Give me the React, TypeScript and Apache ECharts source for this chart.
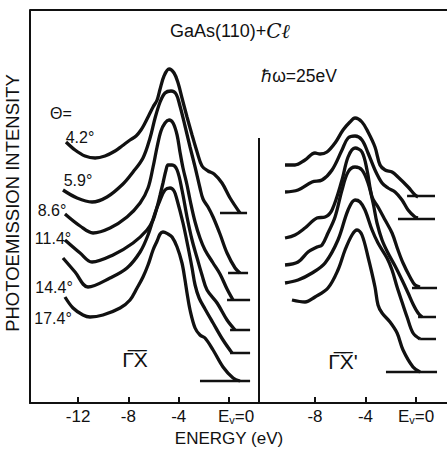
import React, { useEffect, useRef } from 'react';
import * as echarts from 'echarts';

// Energy (eV) vs. intensity (arbitrary units, offset curves)
const leftTicks = [-12, -8, -4, 0];
const rightTicks = [-8, -4, 0];

const thetaLabels = ['4.2°', '5.9°', '8.6°', '11.4°', '14.4°', '17.4°'];

// Left panel (Γ̄X̄)
const curveL1 = [[-12.96,261],[-12.24,253],[-11.45,247],[-10.65,245],[-9.86,247],[-9.06,252],[-8.51,257],[-7.87,263],[-7.39,267],[-7.0,273],[-6.68,280],[-6.36,288],[-6.04,296],[-5.72,303],[-5.48,314],[-5.17,327],[-4.77,334],[-4.37,330],[-4.05,320],[-3.74,305],[-3.34,286],[-2.94,268],[-2.54,251],[-2.15,237],[-1.67,232],[-1.19,229],[-0.56,220],[0.08,205],[0.87,190]];
const curveL2 = [[-13.2,213],[-12.08,205],[-10.89,201],[-9.7,206],[-8.43,219],[-7.63,231],[-6.84,245],[-6.28,265],[-5.88,285],[-5.48,301],[-5.09,310],[-4.61,312],[-4.21,309],[-3.9,297],[-3.5,277],[-3.1,256],[-2.7,236],[-2.31,215],[-2.07,204],[-1.67,196],[-1.27,186],[-0.72,169],[-0.16,150],[0.48,135],[0.87,130]];
const curveL3 = [[-13.04,189],[-11.84,177],[-10.81,170],[-9.46,175],[-8.11,186],[-7.07,200],[-6.44,215],[-6.04,236],[-5.72,256],[-5.41,272],[-5.09,280],[-4.77,283],[-4.45,280],[-4.13,268],[-3.9,251],[-3.66,235],[-3.34,218],[-3.1,203],[-2.7,181],[-2.31,165],[-1.91,153],[-1.27,140],[-0.72,129],[-0.16,114],[0.32,103]];
const curveL4 = [[-13.04,163],[-11.84,150],[-10.89,141],[-9.22,148],[-7.63,160],[-6.52,173],[-6.04,183],[-5.72,196],[-5.48,208],[-5.25,220],[-5.01,233],[-4.85,238],[-4.53,238],[-4.13,233],[-3.74,213],[-3.34,186],[-2.94,163],[-2.54,145],[-2.15,128],[-1.75,113],[-0.95,100],[-0.16,83],[0.48,73]];
const curveL5 = [[-13.2,145],[-12.24,131],[-11.21,116],[-9.46,125],[-8.11,135],[-7.07,151],[-6.44,168],[-5.88,190],[-5.48,203],[-5.09,213],[-4.69,215],[-4.37,212],[-4.13,203],[-3.66,180],[-3.26,156],[-2.94,135],[-2.7,118],[-2.38,105],[-1.91,94],[-1.27,80],[-0.48,63],[0.24,50]];
const curveL6 = [[-13.04,106],[-12.4,95],[-11.61,88],[-11.05,86],[-10.02,88],[-8.66,95],[-7.87,103],[-7.31,115],[-6.84,126],[-6.44,138],[-6.04,153],[-5.72,162],[-5.48,169],[-5.25,171],[-4.85,169],[-4.53,166],[-4.13,156],[-3.74,140],[-3.5,123],[-3.34,110],[-3.1,93],[-2.7,75],[-2.31,68],[-1.91,65],[-1.27,53],[-0.48,36],[0.32,25],[0.87,22]];
// [start E, end E, level]
const baselinesL = [[-0.72,1.43,190],[-0.08,1.51,130],[-0.16,1.67,103],[0.08,1.67,73],[0.08,1.67,50],[-2.31,1.67,22]];

// Right panel (Γ̄X̄')
const curveR1 = [[-10.37,238],[-9.58,238],[-8.79,243],[-8.0,250],[-7.6,249],[-7.05,251],[-6.41,260],[-5.78,273],[-5.23,281],[-4.83,285],[-4.28,281],[-3.8,271],[-3.25,256],[-2.85,238],[-2.45,233],[-1.9,231],[-1.43,226],[-0.63,216],[-0.08,208],[0.16,206]];
const curveR2 = [[-10.37,211],[-9.34,213],[-8.23,221],[-7.44,223],[-6.65,233],[-5.86,253],[-5.38,265],[-4.83,267],[-4.28,263],[-3.8,250],[-3.25,233],[-2.69,220],[-2.22,215],[-1.66,211],[-1.11,203],[-0.63,193],[-0.08,186],[0.16,185]];
const curveR3 = [[-10.37,165],[-9.58,168],[-8.79,175],[-7.84,185],[-7.2,186],[-6.65,193],[-5.86,223],[-5.38,246],[-4.83,255],[-4.28,251],[-3.88,233],[-3.48,206],[-3.01,196],[-2.45,183],[-1.9,170],[-1.43,153],[-1.03,140],[-0.48,126],[-0.08,118],[0.32,116]];
const curveR4 = [[-10.37,138],[-9.34,141],[-8.55,151],[-7.84,156],[-7.44,158],[-6.97,170],[-6.41,186],[-5.86,213],[-5.38,231],[-4.83,236],[-4.28,233],[-3.8,220],[-3.4,200],[-3.09,180],[-2.69,163],[-2.22,150],[-1.66,137],[-1.11,123],[-0.63,110],[-0.24,99],[0.16,90],[0.48,86]];
const curveR5 = [[-10.37,120],[-9.34,123],[-8.23,130],[-7.2,140],[-6.18,163],[-5.38,193],[-4.83,203],[-4.43,201],[-4.04,193],[-3.48,173],[-3.01,160],[-2.3,145],[-1.9,133],[-1.5,116],[-1.11,101],[-0.71,86],[-0.24,70],[0.32,64]];
const curveR6 = [[-9.82,103],[-8.79,101],[-8.0,106],[-6.97,115],[-6.18,133],[-5.62,153],[-5.07,168],[-4.67,173],[-4.28,168],[-3.8,146],[-3.25,116],[-3.01,98],[-2.69,90],[-2.06,81],[-1.5,70],[-1.03,53],[-0.24,36],[0.32,31]];
const baselinesR = [[-0.71,1.5,207],[-1.43,1.5,184],[-0.32,1.66,115],[0.16,1.58,86],[0.32,1.58,64],[-2.38,1.66,31]];

const INK = '#111';
const FONT = 'Liberation Sans';

function curve(data: number[][], idx: number) {
  return {
    type: 'line', xAxisIndex: idx, yAxisIndex: idx, data, showSymbol: false, smooth: 0.35,
    silent: true, lineStyle: { color: INK, width: 3.3 },
  };
}
function base(b: number[], idx: number) {
  return {
    type: 'line', xAxisIndex: idx, yAxisIndex: idx, data: [[b[0], b[2]], [b[1], b[2]]],
    showSymbol: false, silent: true, lineStyle: { color: INK, width: 2.5 },
  };
}

function xAxis(idx: number, min: number, max: number, ticks: number[], shift: boolean) {
  return {
    gridIndex: idx, type: 'value', min, max,
    axisLine: { show: true, onZero: false, lineStyle: { color: INK, width: 2 } },
    axisTick: { show: true, inside: true, length: 6, customValues: ticks, lineStyle: { color: INK, width: 2 } },
    splitLine: { show: false },
    axisLabel: {
      customValues: ticks, margin: 5, color: INK, fontSize: 17, fontFamily: FONT,
      formatter: (v: number) => (v === 0 ? (shift ? '{p|E}{s|v}{e|=0}' : '{e|E}{s|v}{e|=0}') : String(v)),
      rich: {
        e: { fontSize: 17, fontFamily: FONT, color: INK },
        p: { fontSize: 17, fontFamily: FONT, color: INK, padding: [0, 0, 0, 14] },
        s: { fontSize: 11, fontFamily: FONT, color: INK, verticalAlign: 'bottom' },
      },
    },
  };
}
function yAxis(idx: number, showLine: boolean) {
  return {
    gridIndex: idx, type: 'value', min: 0, max: 393,
    axisLine: { show: showLine, onZero: false, lineStyle: { color: INK, width: 2 } },
    axisTick: { show: false }, axisLabel: { show: false }, splitLine: { show: false },
  };
}

function txt(text: string, x: number, y: number, size: number, extra: any = {}) {
  return {
    type: 'text', x, y, silent: true, ...extra,
    style: { text, fill: INK, fontSize: size, fontFamily: FONT, align: 'center', verticalAlign: 'middle', ...(extra.style || {}) },
  };
}

const thetaPos = [[80, 137], [78, 180], [52, 210], [53, 238], [54, 287], [53, 318]];

export default function App() {
  const ref = useRef<HTMLDivElement>(null);
  useEffect(() => {
    if (!ref.current) return;
    const chart = echarts.init(ref.current, null, { renderer: 'svg' });
    const option: any = {
      animation: false,
      backgroundColor: '#fff',
      grid: [
        { left: 30, top: 10, width: 229, height: 393 },
        { left: 259, top: 10, width: 188, height: 393 },
      ],
      xAxis: [xAxis(0, -15.82, 2.38, leftTicks, true), xAxis(1, -12.43, 2.45, rightTicks, false)],
      yAxis: [yAxis(0, true), yAxis(1, false)],
      series: [
        ...[curveL1, curveL2, curveL3, curveL4, curveL5, curveL6].map((c) => curve(c, 0)),
        ...baselinesL.map((b) => base(b, 0)),
        ...[curveR1, curveR2, curveR3, curveR4, curveR5, curveR6].map((c) => curve(c, 1)),
        ...baselinesR.map((b) => base(b, 1)),
      ],
      graphic: [
        { type: 'line', silent: true, shape: { x1: 30, y1: 10, x2: 447, y2: 10 }, style: { stroke: INK, lineWidth: 2 } },
        { type: 'line', silent: true, shape: { x1: 259, y1: 138, x2: 259, y2: 403 }, style: { stroke: INK, lineWidth: 2 } },
        {
          type: 'text', x: 230, y: 31, silent: true,
          style: {
            text: '{a|GaAs(110)+}{b|Cℓ}', align: 'center', verticalAlign: 'middle',
            rich: {
              a: { fontSize: 18, fontFamily: FONT, fill: INK, color: INK },
              b: { fontSize: 20, fontFamily: 'DejaVu Serif', fontStyle: 'italic', fill: INK, color: INK },
            },
          },
        },
        txt('ℏω=25eV', 299, 76, 17.5),
        txt('Θ=', 61, 113, 16),
        ...thetaLabels.map((t, i) => txt(t, thetaPos[i][0], thetaPos[i][1], 16)),
        txt('Γ\u0305X\u0305', 135, 359, 21),
        txt("Γ\u0305X\u0305'", 343, 361, 21),
        txt('ENERGY (eV)', 229, 438, 17),
        txt('PHOTOEMISSION INTENSITY', 12, 203, 18.5, { rotation: Math.PI / 2 }),
      ],
    };
    chart.setOption(option);
    return () => chart.dispose();
  }, []);
  return <div ref={ref} style={{ position: 'absolute', left: 0, top: 0, width: 447, height: 449 }} />;
}
